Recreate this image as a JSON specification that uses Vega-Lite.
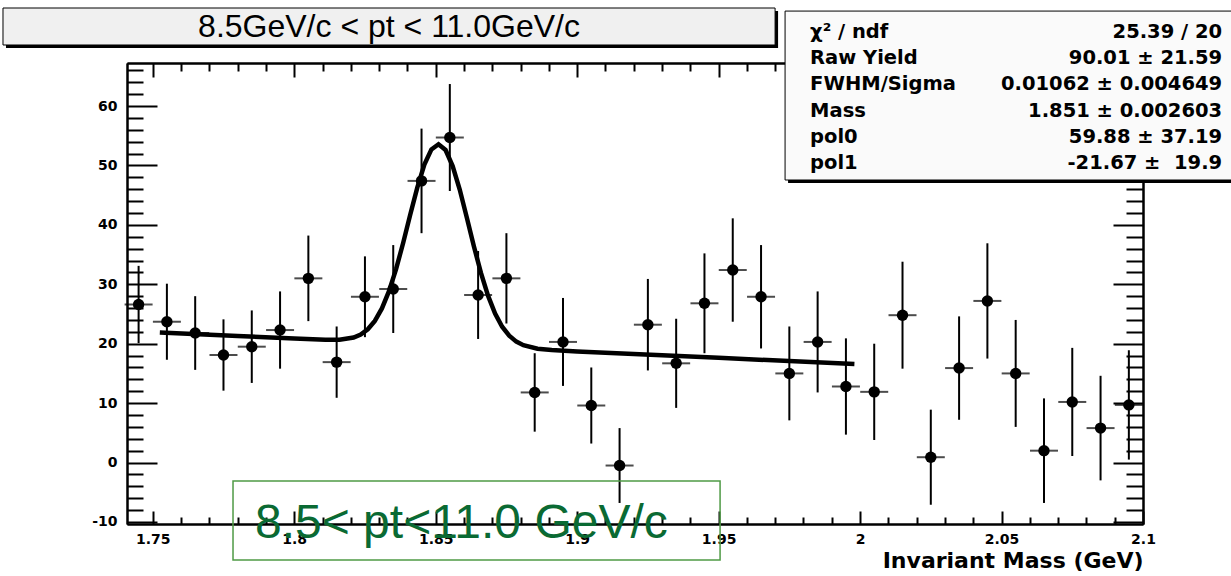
{
  "$schema": "https://vega.github.io/schema/vega-lite/v6.json",
  "width": 1016,
  "height": 461,
  "autosize": "none",
  "padding": {"left": 127, "top": 63, "right": 88, "bottom": 52},
  "background": "white",
  "config": {
    "view": {"stroke": null},
    "axis": {
      "labelFont": "DejaVu Sans", "labelFontWeight": "bold", "labelFontSize": 14, "labelColor": "black",
      "tickColor": "black", "tickWidth": 2, "domainColor": "black", "domainWidth": 2, "grid": false,
      "labelFlush": false, "labelOverlap": false, "titleColor": "black"
    }
  },
  "datasets": {
    "bins": [
      {"m": 1.745, "v": 26.6, "e": 6.5}, {"m": 1.755, "v": 23.7, "e": 6.4}, {"m": 1.765, "v": 21.8, "e": 6.2},
      {"m": 1.775, "v": 18.1, "e": 6.0}, {"m": 1.785, "v": 19.5, "e": 6.1}, {"m": 1.795, "v": 22.3, "e": 6.5},
      {"m": 1.805, "v": 31.0, "e": 7.2}, {"m": 1.815, "v": 16.9, "e": 6.0}, {"m": 1.825, "v": 27.9, "e": 6.8},
      {"m": 1.835, "v": 29.2, "e": 7.4}, {"m": 1.845, "v": 47.4, "e": 8.8}, {"m": 1.855, "v": 54.7, "e": 9.0},
      {"m": 1.865, "v": 28.2, "e": 7.4}, {"m": 1.875, "v": 31.0, "e": 7.6}, {"m": 1.885, "v": 11.8, "e": 6.6},
      {"m": 1.895, "v": 20.3, "e": 7.4}, {"m": 1.905, "v": 9.6, "e": 6.4}, {"m": 1.915, "v": -0.5, "e": 6.3},
      {"m": 1.925, "v": 23.2, "e": 7.7}, {"m": 1.935, "v": 16.7, "e": 7.5}, {"m": 1.945, "v": 26.8, "e": 8.4},
      {"m": 1.955, "v": 32.4, "e": 8.7}, {"m": 1.965, "v": 27.9, "e": 8.7}, {"m": 1.975, "v": 15.0, "e": 7.9},
      {"m": 1.985, "v": 20.3, "e": 8.5}, {"m": 1.995, "v": 12.8, "e": 8.1}, {"m": 2.005, "v": 11.9, "e": 8.1},
      {"m": 2.015, "v": 24.8, "e": 9.0}, {"m": 2.025, "v": 0.9, "e": 8.0}, {"m": 2.035, "v": 15.9, "e": 8.7},
      {"m": 2.045, "v": 27.2, "e": 9.7}, {"m": 2.055, "v": 15.0, "e": 9.0}, {"m": 2.065, "v": 2.0, "e": 8.8},
      {"m": 2.075, "v": 10.2, "e": 9.1}, {"m": 2.085, "v": 5.8, "e": 8.8}, {"m": 2.095, "v": 9.7, "e": 9.2}
    ],
    "fit": [
      {"m": 1.7525, "v": 21.90}, {"m": 1.78, "v": 21.31}, {"m": 1.80, "v": 20.87}, {"m": 1.811, "v": 20.67},
      {"m": 1.816, "v": 20.68}, {"m": 1.821, "v": 21.05}, {"m": 1.8235, "v": 21.54}, {"m": 1.826, "v": 22.43},
      {"m": 1.8285, "v": 23.84}, {"m": 1.831, "v": 25.94}, {"m": 1.8335, "v": 28.85}, {"m": 1.836, "v": 32.56},
      {"m": 1.8385, "v": 36.95}, {"m": 1.841, "v": 41.69}, {"m": 1.8435, "v": 46.27}, {"m": 1.846, "v": 50.13},
      {"m": 1.8485, "v": 52.70}, {"m": 1.851, "v": 53.57}, {"m": 1.8535, "v": 52.60}, {"m": 1.856, "v": 49.91},
      {"m": 1.8585, "v": 45.95}, {"m": 1.861, "v": 41.25}, {"m": 1.8635, "v": 36.41}, {"m": 1.866, "v": 31.91},
      {"m": 1.8685, "v": 28.09}, {"m": 1.871, "v": 25.08}, {"m": 1.8735, "v": 22.86}, {"m": 1.876, "v": 21.35},
      {"m": 1.8785, "v": 20.35}, {"m": 1.881, "v": 19.75}, {"m": 1.886, "v": 19.16}, {"m": 1.891, "v": 18.93},
      {"m": 1.90, "v": 18.71}, {"m": 1.95, "v": 17.62}, {"m": 1.998, "v": 16.58}
    ]
  },
  "resolve": {"axis": {"x": "independent", "y": "independent"}},
  "layer": [
    {
      "data": {"name": "bins"},
      "mark": {"type": "errorbar", "ticks": false, "thickness": 2, "color": "black"},
      "encoding": {
        "x": {"field": "m", "type": "quantitative", "scale": {"domain": [1.7409, 2.1], "nice": false, "zero": false},
          "axis": {"orient": "bottom", "values": [1.75, 1.8, 1.85, 1.9, 1.95, 2, 2.05, 2.1], "format": ".2~f",
            "tickSize": -13, "labelPadding": 21, "title": "Invariant Mass (GeV)", "titleFont": "DejaVu Sans",
            "titleFontWeight": "bold", "titleFontSize": 22, "titleAnchor": "end", "titlePadding": 4}},
        "y": {"field": "v", "type": "quantitative", "scale": {"domain": [-10.34, 67.24], "nice": false, "zero": false},
          "axis": {"orient": "left", "values": [-10, 0, 10, 20, 30, 40, 50, 60], "labelExpr": "'' + datum.value", "tickSize": -30, "labelPadding": 40, "title": null}},
        "yError": {"field": "e"}
      }
    },
    {
      "data": {"name": "bins"},
      "mark": {"type": "tick", "orient": "horizontal", "size": 28, "thickness": 2, "color": "black"},
      "encoding": {
        "x": {"field": "m", "type": "quantitative", "scale": {"domain": [1.7409, 2.1], "nice": false, "zero": false},
          "axis": {"orient": "bottom", "values": [1.76, 1.77, 1.78, 1.79, 1.81, 1.82, 1.83, 1.84, 1.86, 1.87, 1.88, 1.89, 1.91, 1.92, 1.93, 1.94, 1.96, 1.97, 1.98, 1.99, 2.01, 2.02, 2.03, 2.04, 2.06, 2.07, 2.08, 2.09],
            "labels": false, "tickSize": -7, "title": null}},
        "y": {"field": "v", "type": "quantitative", "scale": {"domain": [-10.34, 67.24], "nice": false, "zero": false},
          "axis": {"orient": "left", "values": [-8, -6, -4, -2, 2, 4, 6, 8, 12, 14, 16, 18, 22, 24, 26, 28, 32, 34, 36, 38, 42, 44, 46, 48, 52, 54, 56, 58, 62, 64, 66],
            "labels": false, "tickSize": -16, "title": null}}
      }
    },
    {
      "data": {"name": "bins"},
      "mark": {"type": "circle", "size": 130, "opacity": 1, "color": "black"},
      "encoding": {
        "x": {"field": "m", "type": "quantitative", "scale": {"domain": [1.7409, 2.1], "nice": false, "zero": false},
          "axis": {"orient": "top", "values": [1.75, 1.8, 1.85, 1.9, 1.95, 2, 2.05, 2.1], "labels": false, "tickSize": -14, "title": null}},
        "y": {"field": "v", "type": "quantitative", "scale": {"domain": [-10.34, 67.24], "nice": false, "zero": false},
          "axis": {"orient": "right", "values": [-10, 0, 10, 20, 30, 40, 50, 60], "labels": false, "tickSize": -30, "title": null}}
      }
    },
    {
      "data": {"name": "fit"},
      "mark": {"type": "line", "color": "black", "strokeWidth": 4.5, "interpolate": "linear"},
      "encoding": {
        "x": {"field": "m", "type": "quantitative", "scale": {"domain": [1.7409, 2.1], "nice": false, "zero": false},
          "axis": {"orient": "top", "values": [1.76, 1.77, 1.78, 1.79, 1.81, 1.82, 1.83, 1.84, 1.86, 1.87, 1.88, 1.89, 1.91, 1.92, 1.93, 1.94, 1.96, 1.97, 1.98, 1.99, 2.01, 2.02, 2.03, 2.04, 2.06, 2.07, 2.08, 2.09],
            "labels": false, "tickSize": -8, "title": null}},
        "y": {"field": "v", "type": "quantitative", "scale": {"domain": [-10.34, 67.24], "nice": false, "zero": false},
          "axis": {"orient": "right", "values": [-8, -6, -4, -2, 2, 4, 6, 8, 12, 14, 16, 18, 22, 24, 26, 28, 32, 34, 36, 38, 42, 44, 46, 48, 52, 54, 56, 58, 62, 64, 66],
            "labels": false, "tickSize": -17, "title": null}}
      }
    },
    {
      "data": {"values": [{}]},
      "mark": {"type": "rect", "fill": "black", "clip": false},
      "encoding": {
        "x": {"datum": 1.69813, "type": "quantitative", "axis": null, "scale": {"domain": [1.7409, 2.1], "nice": false, "zero": false}},
        "x2": {"datum": 1.97102},
        "y": {"datum": 75.99, "type": "quantitative", "axis": null, "scale": {"domain": [-10.34, 67.24], "nice": false, "zero": false}},
        "y2": {"datum": 69.765}
      }
    },
    {
      "data": {"values": [{}]},
      "mark": {"type": "rect", "fill": "#f0f0f0", "stroke": "black", "strokeWidth": 1, "clip": false},
      "encoding": {
        "x": {"datum": 1.69707, "type": "quantitative", "axis": null, "scale": {"domain": [1.7409, 2.1], "nice": false, "zero": false}},
        "x2": {"datum": 1.96996},
        "y": {"datum": 76.495, "type": "quantitative", "axis": null, "scale": {"domain": [-10.34, 67.24], "nice": false, "zero": false}},
        "y2": {"datum": 70.27}
      }
    },
    {
      "data": {"values": [{}]},
      "mark": {"type": "text", "font": "Liberation Sans", "fontSize": 32, "color": "black", "align": "center", "baseline": "middle", "clip": false},
      "encoding": {
        "x": {"datum": 1.83351, "type": "quantitative", "axis": null, "scale": {"domain": [1.7409, 2.1], "nice": false, "zero": false}},
        "y": {"datum": 73.38, "type": "quantitative", "axis": null, "scale": {"domain": [-10.34, 67.24], "nice": false, "zero": false}},
        "text": {"value": "8.5GeV/c < pt < 11.0GeV/c"}
      }
    },
    {
      "data": {"values": [{}]},
      "mark": {"type": "rect", "fill": "black", "clip": false},
      "encoding": {
        "x": {"datum": 1.97455, "type": "quantitative", "axis": null, "scale": {"domain": [1.7409, 2.1], "nice": false, "zero": false}},
        "x2": {"datum": 2.13539},
        "y": {"datum": 75.475, "type": "quantitative", "axis": null, "scale": {"domain": [-10.34, 67.24], "nice": false, "zero": false}},
        "y2": {"datum": 47.045}
      }
    },
    {
      "data": {"values": [{}]},
      "mark": {"type": "rect", "fill": "#fafafa", "stroke": "black", "strokeWidth": 1, "clip": false},
      "encoding": {
        "x": {"datum": 1.97349, "type": "quantitative", "axis": null, "scale": {"domain": [1.7409, 2.1], "nice": false, "zero": false}},
        "x2": {"datum": 2.13433},
        "y": {"datum": 75.98, "type": "quantitative", "axis": null, "scale": {"domain": [-10.34, 67.24], "nice": false, "zero": false}},
        "y2": {"datum": 47.55}
      }
    },
    {
      "data": {"values": [{}]},
      "mark": {"type": "text", "font": "DejaVu Sans", "fontWeight": "bold", "fontSize": 19.5, "color": "black", "align": "left", "baseline": "middle", "lineHeight": 26.3, "clip": false},
      "encoding": {
        "x": {"datum": 1.98233, "type": "quantitative", "axis": null, "scale": {"domain": [1.7409, 2.1], "nice": false, "zero": false}},
        "y": {"datum": 72.51, "type": "quantitative", "axis": null, "scale": {"domain": [-10.34, 67.24], "nice": false, "zero": false}},
        "text": {"value": ["χ² / ndf", "Raw Yield", "FWHM/Sigma", "Mass", "pol0", "pol1"]}
      }
    },
    {
      "data": {"values": [{}]},
      "mark": {"type": "text", "font": "DejaVu Sans", "fontWeight": "bold", "fontSize": 19.5, "color": "black", "align": "right", "baseline": "middle", "lineHeight": 26.3, "clip": false},
      "encoding": {
        "x": {"datum": 2.12796, "type": "quantitative", "axis": null, "scale": {"domain": [1.7409, 2.1], "nice": false, "zero": false}},
        "y": {"datum": 72.51, "type": "quantitative", "axis": null, "scale": {"domain": [-10.34, 67.24], "nice": false, "zero": false}},
        "text": {"value": ["25.39 / 20", "90.01 ± 21.59", "0.01062 ± 0.004649", "1.851 ± 0.002603", "59.88 ± 37.19", "-21.67 ± \u00a019.9"]}
      }
    },
    {
      "data": {"values": [{}]},
      "mark": {"type": "rect", "fill": null, "fillOpacity": 0, "stroke": "#4f9a45", "strokeWidth": 1.5, "clip": false},
      "encoding": {
        "x": {"datum": 1.77837, "type": "quantitative", "axis": null, "scale": {"domain": [1.7409, 2.1], "nice": false, "zero": false}},
        "x2": {"datum": 1.95052},
        "y": {"datum": -3.10, "type": "quantitative", "axis": null, "scale": {"domain": [-10.34, 67.24], "nice": false, "zero": false}},
        "y2": {"datum": -16.39}
      }
    },
    {
      "data": {"values": [{}]},
      "mark": {"type": "text", "font": "Liberation Sans", "fontSize": 48, "color": "#0a6a33", "align": "left", "baseline": "alphabetic", "clip": false},
      "encoding": {
        "x": {"datum": 1.78615, "type": "quantitative", "axis": null, "scale": {"domain": [1.7409, 2.1], "nice": false, "zero": false}},
        "y": {"datum": -12.69, "type": "quantitative", "axis": null, "scale": {"domain": [-10.34, 67.24], "nice": false, "zero": false}},
        "text": {"value": "8.5< pt<11.0 GeV/c"}
      }
    }
  ]
}
